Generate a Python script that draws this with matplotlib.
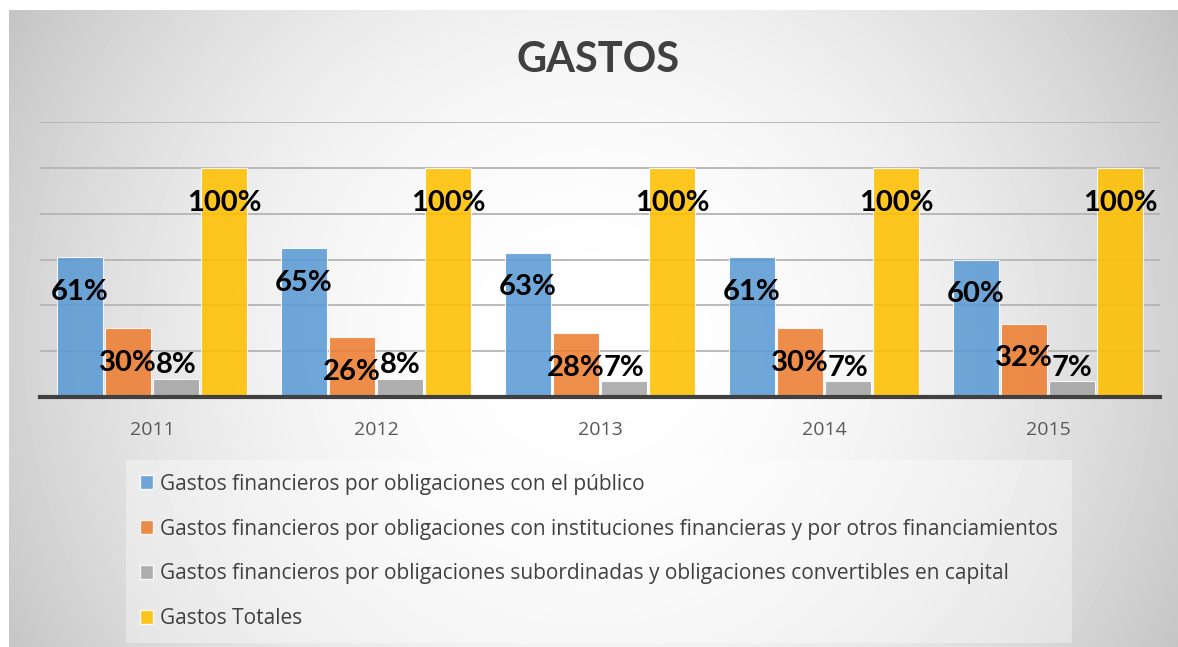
import numpy as np
import matplotlib.pyplot as plt
from matplotlib.patches import Patch

plt.rcParams['font.family'] = ['Lato', 'DejaVu Sans']

years = ['2011', '2012', '2013', '2014', '2015']
publico = [0.61, 0.65, 0.63, 0.61, 0.60]
instituciones = [0.30, 0.26, 0.28, 0.30, 0.32]
subordinadas = [0.08, 0.08, 0.07, 0.07, 0.07]
totales = [1.00, 1.00, 1.00, 1.00, 1.00]

series = [publico, instituciones, subordinadas, totales]
names = ['Gastos financieros por obligaciones con el público',
         'Gastos financieros por obligaciones con instituciones financieras y por otros financiamientos',
         'Gastos financieros por obligaciones subordinadas y obligaciones convertibles en capital',
         'Gastos Totales']
colors = ['#5B9BD5', '#ED7D31', '#A5A5A5', '#FFC000']

W, H = 1178, 647
fig = plt.figure(figsize=(W / 100, H / 100), dpi=100)
fig.patch.set_facecolor('white')

# radial gradient background of the chart area
bg = fig.add_axes([9 / W, 0, (W - 9) / W, (H - 10) / H])
bg.set_axis_off()
yy, xx = np.mgrid[10:H, 9:W]
r = np.sqrt((xx - 590) ** 2 + (yy - 340) ** 2) / 663.0
v = np.clip(1 - 0.23 * r ** 2, 0, 1)
bg.imshow(v, cmap='gray', vmin=0, vmax=1, aspect='auto', interpolation='bilinear')

ax = fig.add_axes([40 / W, (H - 397) / H, 1120 / W, 275 / H])
ax.patch.set_alpha(0)

x = np.arange(len(years))
step = 48 / 224
offsets = [-1.5 * step, -0.5 * step, 0.5 * step, 1.5 * step]
for i, vals in enumerate(series):
    bars = ax.bar(x + offsets[i], vals, width=step * 0.97, color=colors[i], alpha=0.88,
                  edgecolor='white', linewidth=0.8, zorder=2)
    for b, val in zip(bars, vals):
        dy = 9.5 if i == 2 else -25
        ax.annotate(f'{val * 100:.0f}%', (b.get_x() + b.get_width() / 2, val),
                    xytext=(0, dy), textcoords='offset points', ha='center', va='center',
                    fontsize=21, fontweight='bold', color='black', zorder=4)

ax.set_xlim(-0.5, len(years) - 0.5)
ax.set_ylim(0, 1.2)
ax.set_yticks(np.arange(0.2, 1.21, 0.2))
ax.yaxis.grid(True, color='#b4b4b4', linewidth=1.3, zorder=0)
ax.set_axisbelow(True)
ax.tick_params(axis='y', left=False, labelleft=False)
ax.set_xticks(x)
ax.set_xticklabels(years, fontfamily='Open Sans')
ax.tick_params(axis='x', length=0, pad=17, labelsize=14, labelcolor='#595959')
for s in ['top', 'right', 'left']:
    ax.spines[s].set_visible(False)
ax.spines['bottom'].set_color('#404040')
ax.spines['bottom'].set_linewidth(3)
ax.spines['bottom'].set_zorder(3)

fig.text(598 / W, 1 - 60 / H, 'GASTOS', ha='center', va='center', fontsize=30,
         fontweight='bold', color='#404040')

handles = [Patch(facecolor=c, edgecolor='white', alpha=0.88) for c in colors]
leg = fig.legend(handles, names, loc='upper left', bbox_to_anchor=(126 / W, 1 - 460 / H),
                 bbox_transform=fig.transFigure, borderaxespad=0, frameon=True, fancybox=False,
                 prop={'family': 'Open Sans', 'size': 15}, labelcolor='#404040',
                 handlelength=0.65, handleheight=0.65,
                 handletextpad=0.35, labelspacing=1.15, borderpad=0.65)
leg.get_frame().set_facecolor('white')
leg.get_frame().set_alpha(0.35)
leg.get_frame().set_linewidth(0)

fig.savefig('out.png', dpi=100)
